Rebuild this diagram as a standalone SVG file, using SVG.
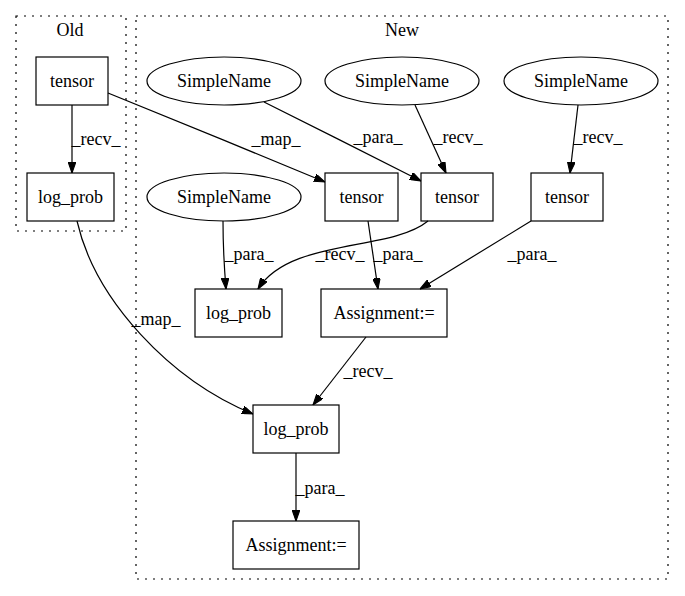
<svg xmlns="http://www.w3.org/2000/svg" width="685" height="596" viewBox="0 0 685 596">
<style>
text{font-family:"Liberation Serif","Times New Roman",serif;font-size:18px;fill:#000;text-anchor:middle}
.node rect,.node ellipse{fill:none;stroke:#000;stroke-width:1.2}
.cluster{fill:none;stroke:#000;stroke-width:1.2;stroke-dasharray:2,6}
#edges path{fill:none;stroke:#000;stroke-width:1.2;marker-end:url(#arr)}
</style>
<defs>
<marker id="arr" viewBox="0 0 10 7" refX="10" refY="3.5" markerWidth="11" markerHeight="8" markerUnits="userSpaceOnUse" orient="auto">
<path d="M0,0 L10,3.5 L0,7 z" fill="#000" stroke="#000"/>
</marker>
</defs>
<rect width="685" height="596" fill="#fff"/>
<g id="cluster_old"><rect class="cluster" x="16" y="16" width="110" height="215"/><text x="70" y="36">Old</text></g>
<g id="cluster_new"><rect class="cluster" x="136" y="16" width="532" height="563"/><text x="402" y="36">New</text></g>

<g id="old_tensor" class="node"><rect x="36" y="57" width="72" height="48"/><text x="72" y="87">tensor</text></g>
<g id="old_log_prob" class="node"><rect x="27" y="173" width="87" height="48"/><text x="70.5" y="203">log_prob</text></g>

<g id="sn1" class="node"><ellipse cx="224" cy="81" rx="77" ry="24"/><text x="224" y="87">SimpleName</text></g>
<g id="sn2" class="node"><ellipse cx="402" cy="81" rx="77" ry="24"/><text x="402" y="87">SimpleName</text></g>
<g id="sn3" class="node"><ellipse cx="581" cy="81" rx="77" ry="24"/><text x="581" y="87">SimpleName</text></g>
<g id="sn4" class="node"><ellipse cx="224" cy="197" rx="77" ry="24"/><text x="224" y="203">SimpleName</text></g>

<g id="tensor_a" class="node"><rect x="325" y="173" width="73" height="48"/><text x="361.5" y="203">tensor</text></g>
<g id="tensor_b" class="node"><rect x="421" y="173" width="72" height="48"/><text x="457" y="203">tensor</text></g>
<g id="tensor_c" class="node"><rect x="531" y="173" width="72" height="48"/><text x="567" y="203">tensor</text></g>

<g id="log_prob_new" class="node"><rect x="195" y="289" width="87" height="48"/><text x="238.5" y="319">log_prob</text></g>
<g id="assign1" class="node"><rect x="321" y="289" width="126" height="48"/><text x="384" y="319">Assignment:=</text></g>
<g id="log_prob_main" class="node"><rect x="253" y="405" width="86" height="48"/><text x="296" y="435">log_prob</text></g>
<g id="assign2" class="node"><rect x="233" y="521" width="126" height="48"/><text x="296" y="551">Assignment:=</text></g>

<g id="edges">
<path d="M72,105 L72,173"/>
<path d="M108,93 C170,118 260,155 325,182"/>
<path d="M264,102 C310,125 380,160 421,181"/>
<path d="M415,105 L446,173"/>
<path d="M578,105 L570,173"/>
<path d="M223,221 C223,240 224,265 226,289"/>
<path d="M428,221 C390,252 290,238 258,289"/>
<path d="M368,221 L378,289"/>
<path d="M531,221 L420,289"/>
<path d="M366,337 L313,405"/>
<path d="M77,221 C95,300 170,380 253,414"/>
<path d="M296,453 L296,521"/>
</g>
<g id="edge_labels">
<text x="96" y="145">_recv_</text>
<text x="276" y="145">_map_</text>
<text x="378" y="143">_para_</text>
<text x="458" y="143">_recv_</text>
<text x="598" y="143">_recv_</text>
<text x="249" y="260">_para_</text>
<text x="340" y="260">_recv_</text>
<text x="398" y="260">_para_</text>
<text x="532" y="260">_para_</text>
<text x="368" y="377">_recv_</text>
<text x="156" y="325">_map_</text>
<text x="320" y="494">_para_</text>
</g>
</svg>
